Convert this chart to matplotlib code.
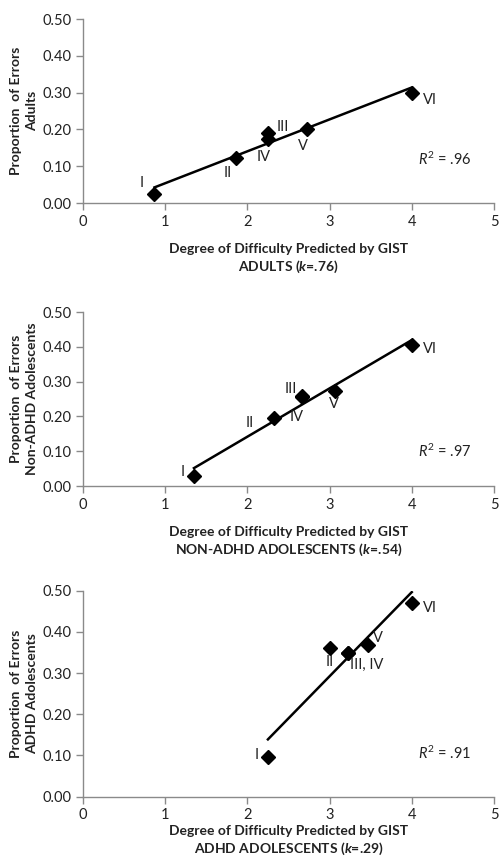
import numpy as np
import matplotlib

matplotlib.use("Agg")
import matplotlib.pyplot as plt

plt.rcParams["font.family"] = ["Lato", "DejaVu Sans"]
plt.rcParams["mathtext.fontset"] = "custom"
plt.rcParams["mathtext.rm"] = "Lato"
plt.rcParams["mathtext.it"] = "Lato:italic"
plt.rcParams["mathtext.bf"] = "Lato:bold"
plt.rcParams["mathtext.bfit"] = "Lato:bold:italic"

labels = ["I", "II", "III", "IV", "V", "VI"]

# adults
adult_x = [0.87, 1.86, 2.25, 2.25, 2.73, 4.00]
adult_y = [0.025, 0.123, 0.190, 0.175, 0.200, 0.300]
# non-ADHD adolescents
nonadhd_x = [1.35, 2.33, 2.67, 2.67, 3.06, 4.00]
nonadhd_y = [0.030, 0.195, 0.260, 0.255, 0.272, 0.405]
# ADHD adolescents (III and IV coincide)
adhd_x = [2.25, 3.00, 3.22, 3.22, 3.47, 4.00]
adhd_y = [0.097, 0.360, 0.348, 0.348, 0.367, 0.470]

r2_text = ["$R^2$ = .96", "$R^2$ = .97", "$R^2$ = .91"]
ylabels = ["Proportion  of Errors\nAdults",
           "Proportion  of Errors\nNon-ADHD Adolescents",
           "Proportion  of Errors\nADHD Adolescents"]
xlabels = ["Degree of Difficulty Predicted by GIST\nADULTS ($\\mathbfit{k}$=.76)",
           "Degree of Difficulty Predicted by GIST\nNON-ADHD ADOLESCENTS ($\\mathbfit{k}$=.54)",
           "Degree of Difficulty Predicted by GIST\nADHD ADOLESCENTS ($\\mathbfit{k}$=.29)"]

# label offsets in pixels (dx, dy) per point, None = no label
offsets = [
    [(-13, 11), (-8, -15), (15, 6), (-4, -18), (-4, -17), (18, -7)],
    [(-11, 4), (-25, -5), (-12, 7), (-6, -20), (-1, -13), (18, -4)],
    [(-11, 2), (0, -14), None, (19, -12), (10, 7), (18, -5)],
]
adhd_names = ["I", "II", "III", "III, IV", "V", "VI"]

# axes rectangles in figure fractions
rects = [
    [0.1663, 0.7642, 0.8236, 0.2137],
    [0.1663, 0.4355, 0.8236, 0.2021],
    [0.1663, 0.0747, 0.8236, 0.2393],
]
xpads = [10, 10, 2]

fig = plt.figure(figsize=(4.99, 8.61), dpi=100)
datasets = [(adult_x, adult_y), (nonadhd_x, nonadhd_y), (adhd_x, adhd_y)]
gray = "#8a8a8a"

for i, (xs, ys) in enumerate(datasets):
    ax = fig.add_axes(rects[i])
    xs = np.array(xs)
    ys = np.array(ys)
    slope, icpt = np.polyfit(xs, ys, 1)
    fx = np.array([xs.min(), xs.max()])
    ax.plot(fx, slope * fx + icpt, color="black", lw=1.8, zorder=2)
    ax.plot(xs, ys, "D", color="black", markersize=7, zorder=3)

    names = adhd_names if i == 2 else labels
    for j, off in enumerate(offsets[i]):
        if off is None:
            continue
        ax.annotate(names[j], (xs[j], ys[j]), xytext=off,
                    textcoords="offset pixels", ha="center", va="center",
                    fontsize=10.5, color="#222222")

    ax.text(4.08, [0.12, 0.099, 0.104][i], r2_text[i], fontsize=10.5,
            ha="left", va="center", color="#222222")

    ax.set_xlim(0, 5)
    ax.set_ylim(0, 0.5)
    ax.set_xticks(range(6))
    ax.set_yticks(np.arange(0, 0.51, 0.1))
    ax.set_yticklabels([f"{v:.2f}" for v in np.arange(0, 0.51, 0.1)])
    for s in ["top", "right"]:
        ax.spines[s].set_visible(False)
    for s in ["left", "bottom"]:
        ax.spines[s].set_color(gray)
        ax.spines[s].set_linewidth(1.0)
    ax.tick_params(axis="both", colors=gray, labelcolor="#222222",
                   labelsize=10.5, length=5, width=1.0)
    ax.set_xlabel(xlabels[i], fontsize=10, fontweight="bold", labelpad=xpads[i],
                  color="#222222", linespacing=1.3)
    ax.set_ylabel(ylabels[i], fontsize=10, fontweight="bold", labelpad=3,
                  color="#222222", linespacing=1.35)

fig.savefig("out.png", dpi=100)
